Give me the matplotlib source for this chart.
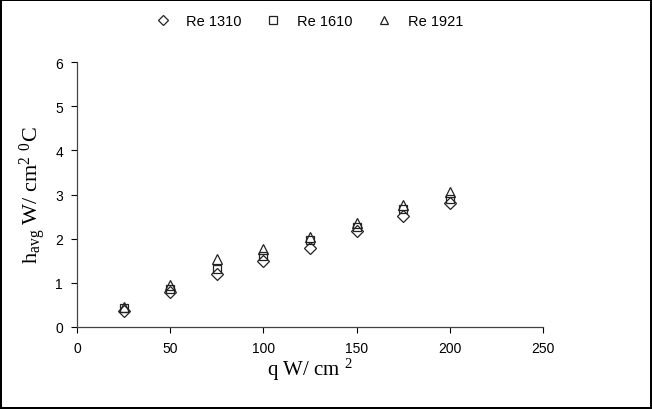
import matplotlib
matplotlib.use("Agg")
import matplotlib.pyplot as plt

# heat flux, W/cm^2
q = [25, 50, 75, 100, 125, 150, 175, 200]

# average heat transfer coefficient for each Reynolds number
h_re1310 = [0.37, 0.80, 1.20, 1.50, 1.80, 2.17, 2.52, 2.82]
h_re1610 = [0.42, 0.87, 1.32, 1.61, 1.96, 2.26, 2.68, 2.90]
h_re1921 = [0.45, 0.96, 1.54, 1.76, 2.05, 2.36, 2.76, 3.06]

series = [
    ("Re 1310", h_re1310, "D", 6),
    ("Re 1610", h_re1610, "s", 5.8),
    ("Re 1921", h_re1921, "^", 7),
]

plt.rcParams["font.family"] = ["Liberation Sans", "DejaVu Sans"]
plt.rcParams["mathtext.fontset"] = "custom"
plt.rcParams["mathtext.rm"] = "Liberation Serif"
plt.rcParams["mathtext.it"] = "Liberation Serif:italic"

fig = plt.figure(figsize=(6.52, 4.10), dpi=100)
fig.patch.set_edgecolor("black")
fig.patch.set_linewidth(1.5)
ax = fig.add_axes([0.118, 0.20, 0.715, 0.646])

for label, vals, marker, ms in series:
    ax.plot(q, vals, linestyle="none", marker=marker, markersize=ms,
            markerfacecolor="none", markeredgecolor="#222222",
            markeredgewidth=0.9, label=label)

ax.set_xlim(0, 250)
ax.set_ylim(0, 6)
ax.set_xticks([0, 50, 100, 150, 200, 250])
ax.set_yticks([0, 1, 2, 3, 4, 5, 6])
ax.tick_params(direction="out", length=4, width=0.8, labelsize=10, pad=6)
for side in ("top", "right"):
    ax.spines[side].set_visible(False)
for side in ("left", "bottom"):
    ax.spines[side].set_color("#444444")
    ax.spines[side].set_linewidth(0.9)

ax.set_xlabel("q W/ cm $^{2}$", fontfamily=["Liberation Serif", "DejaVu Serif"],
              fontsize=15, labelpad=1)
ax.set_ylabel("h$_{\\mathrm{avg}}$ W/ cm$^{2}$ $^{0}$C",
              fontfamily=["Liberation Serif", "DejaVu Serif"], fontsize=16, labelpad=5)

fig.legend(loc="upper center", bbox_to_anchor=(0.473, 0.995), ncol=3, frameon=False,
           fontsize=10.5, markerscale=0.9, handletextpad=1.0, columnspacing=1.6,
           handlelength=1.2)

fig.savefig("out.png", dpi=100)
